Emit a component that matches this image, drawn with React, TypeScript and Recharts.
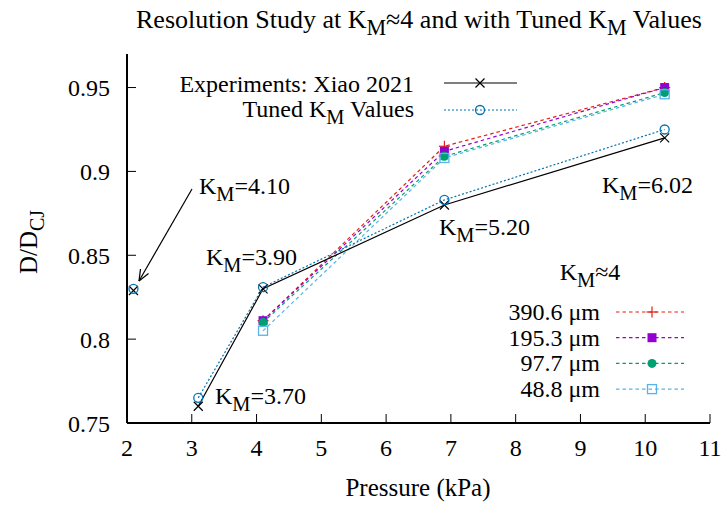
import { ComposedChart, Line, XAxis, YAxis } from 'recharts'

// values
const pressure = [2.1, 3.1, 4.1, 6.9, 10.3]
const experimentD = [0.829, 0.76, 0.83, 0.88, 0.92]
const tunedD = [0.83, 0.765, 0.831, 0.883, 0.925]

const resPressure = [4.1, 6.9, 10.3]
const res390 = [0.811, 0.915, 0.95]
const res195 = [0.811, 0.912, 0.95]
const res97 = [0.81, 0.909, 0.947]
const res48 = [0.805, 0.908, 0.946]

const xTicks = [2, 3, 4, 5, 6, 7, 8, 9, 10, 11]
const yTicks = [0.75, 0.8, 0.85, 0.9, 0.95]

const FONT = 'Liberation Serif, Tinos, DejaVu Serif, serif'
const C_EXP = '#000000'
const C_TUNED = '#0072b2'
const C_390 = '#e51e10'
const C_195 = '#9400d3'
const C_97 = '#009e73'
const C_48 = '#56b4e9'

const pairs = (xs: number[], ys: number[]) => xs.map((p, i) => ({ p, d: ys[i] }))

// the 2.1 kPa point is plotted on its own, not joined to the rest
const expIsolated = pairs(pressure.slice(0, 1), experimentD.slice(0, 1))
const expLine = pairs(pressure.slice(1), experimentD.slice(1))
const tunedIsolated = pairs(pressure.slice(0, 1), tunedD.slice(0, 1))
const tunedLine = pairs(pressure.slice(1), tunedD.slice(1))

type Mk = 'cross' | 'circle' | 'plus' | 'square' | 'dot' | 'box'

function Marker({ kind, cx, cy, color }: { kind: Mk; cx: number; cy: number; color: string }) {
  const s = 4.5
  switch (kind) {
    case 'cross':
      return (
        <g stroke={color} strokeWidth={1.2}>
          <line x1={cx - s} y1={cy - s} x2={cx + s} y2={cy + s} />
          <line x1={cx - s} y1={cy + s} x2={cx + s} y2={cy - s} />
        </g>
      )
    case 'plus':
      return (
        <g stroke={color} strokeWidth={1.2}>
          <line x1={cx - 5.5} y1={cy} x2={cx + 5.5} y2={cy} />
          <line x1={cx} y1={cy - 5.5} x2={cx} y2={cy + 5.5} />
        </g>
      )
    case 'circle':
      return <circle cx={cx} cy={cy} r={s} fill="none" stroke={color} strokeWidth={1.3} />
    case 'dot':
      return <circle cx={cx} cy={cy} r={s} fill={color} stroke="none" />
    case 'square':
      return <rect x={cx - s} y={cy - s} width={2 * s} height={2 * s} fill={color} />
    case 'box':
      return <rect x={cx - s} y={cy - s} width={2 * s} height={2 * s} fill="none" stroke={color} strokeWidth={1.3} />
  }
}

const dotOf = (kind: Mk, color: string) => (props: any) => (
  <Marker key={`${kind}-${props.index}`} kind={kind} cx={props.cx} cy={props.cy} color={color} />
)

function KM({ rest }: { rest: string }) {
  return (
    <>
      <tspan>K</tspan>
      <tspan dy={7} fontSize="0.85em">M</tspan>
      <tspan dy={-7}>{rest}</tspan>
    </>
  )
}

const resSeries = [
  { name: '390.6 μm', vals: res390, color: C_390, mk: 'plus' as Mk },
  { name: '195.3 μm', vals: res195, color: C_195, mk: 'square' as Mk },
  { name: '97.7 μm', vals: res97, color: C_97, mk: 'dot' as Mk },
  { name: '48.8 μm', vals: res48, color: C_48, mk: 'box' as Mk },
]

export default function App() {
  const tickStyle = { fontSize: 24, fill: '#000', style: { fontFamily: FONT } }
  const axisStroke = { stroke: '#000', strokeWidth: 2 }
  return (
    <div style={{ position: 'absolute', left: 0, top: 0, width: 722, height: 507, background: '#fff', fontFamily: FONT }}>
      <ComposedChart width={722} height={507} margin={{ top: 54, right: 12, bottom: 54, left: 67 }} style={{ fontFamily: FONT }}>
        <XAxis
          type="number"
          dataKey="p"
          domain={[2, 11]}
          ticks={xTicks}
          allowDataOverflow
          height={30}
          tickSize={-9}
          tickMargin={25}
          tick={tickStyle}
          axisLine={axisStroke}
          tickLine={{ stroke: '#000', strokeWidth: 1 }}
        />
        <XAxis
          xAxisId="top"
          orientation="top"
          type="number"
          dataKey="p"
          domain={[2, 11]}
          ticks={xTicks}
          height={0}
          tickSize={-9}
          tick={false}
          axisLine={axisStroke}
          tickLine={{ stroke: '#000', strokeWidth: 1 }}
        />
        <YAxis
          type="number"
          domain={[0.75, 0.97]}
          ticks={yTicks}
          allowDataOverflow
          width={60}
          tickSize={-9}
          tickMargin={26}
          tick={tickStyle}
          axisLine={axisStroke}
          tickLine={{ stroke: '#000', strokeWidth: 1 }}
        />
        <YAxis
          yAxisId="right"
          orientation="right"
          type="number"
          domain={[0.75, 0.97]}
          ticks={yTicks}
          width={0}
          tickSize={-9}
          tick={false}
          axisLine={axisStroke}
          tickLine={{ stroke: '#000', strokeWidth: 1 }}
        />

        {resSeries.map((s) => (
          <Line
            key={s.name}
            data={pairs(resPressure, s.vals)}
            dataKey="d"
            type="linear"
            stroke={s.color}
            strokeWidth={1.2}
            strokeDasharray="3.5 3"
            dot={dotOf(s.mk, s.color)}
            isAnimationActive={false}
          />
        ))}

        <Line data={expLine} dataKey="d" type="linear" stroke={C_EXP} strokeWidth={1.2}
          dot={dotOf('cross', C_EXP)} isAnimationActive={false} />
        <Line data={expIsolated} dataKey="d" type="linear" stroke={C_EXP} strokeWidth={1.2}
          dot={dotOf('cross', C_EXP)} isAnimationActive={false} />
        <Line data={tunedLine} dataKey="d" type="linear" stroke={C_TUNED} strokeWidth={1.2}
          strokeDasharray="2 2" dot={dotOf('circle', C_TUNED)} isAnimationActive={false} />
        <Line data={tunedIsolated} dataKey="d" type="linear" stroke={C_TUNED} strokeWidth={1.2}
          strokeDasharray="2 2" dot={dotOf('circle', C_TUNED)} isAnimationActive={false} />
      </ComposedChart>

      <svg
        width={722}
        height={507}
        style={{ position: 'absolute', left: 0, top: 0, pointerEvents: 'none', fontFamily: FONT }}
      >
        {/* title */}
        <text x={419} y={28} textAnchor="middle" fontSize={26}>
          <tspan>Resolution Study at </tspan>
          <KM rest="≈4 and with Tuned " />
          <KM rest=" Values" />
        </text>

        {/* axis labels */}
        <text x={418} y={496} textAnchor="middle" fontSize={25}>Pressure (kPa)</text>
        <text transform="translate(37,242) rotate(-90)" textAnchor="middle" fontSize={25}>
          <tspan>D/D</tspan>
          <tspan dy={7} fontSize="0.8em">CJ</tspan>
        </text>

        {/* legend, upper left */}
        <text x={414} y={92} textAnchor="end" fontSize={24}>Experiments: Xiao 2021</text>
        <line x1={444} y1={83} x2={517} y2={83} stroke={C_EXP} strokeWidth={1.2} />
        <Marker kind="cross" cx={480} cy={83} color={C_EXP} />
        <text x={414} y={117} textAnchor="end" fontSize={24}>
          <tspan>Tuned </tspan>
          <KM rest=" Values" />
        </text>
        <line x1={444} y1={110} x2={517} y2={110} stroke={C_TUNED} strokeWidth={1.2} strokeDasharray="2 2" />
        <Marker kind="circle" cx={480} cy={110} color={C_TUNED} />

        {/* legend, lower right */}
        <text x={590} y={280} textAnchor="middle" fontSize={24}>
          <KM rest="≈4" />
        </text>
        {resSeries.map((s, i) => {
          const y = 312 + i * 25.7
          return (
            <g key={s.name}>
              <text x={600} y={y + 8} textAnchor="end" fontSize={24}>{s.name}</text>
              <line x1={616} y1={y} x2={684} y2={y} stroke={s.color} strokeWidth={1.2} strokeDasharray="3.5 3" />
              <Marker kind={s.mk} cx={652} cy={y} color={s.color} />
            </g>
          )
        })}

        {/* annotations */}
        <text x={199} y={194} fontSize={24}><KM rest="=4.10" /></text>
        <line x1={192} y1={189} x2={139} y2={281} stroke="#000" strokeWidth={1.2} />
        <line x1={139} y1={281} x2={140.5} y2={269} stroke="#000" strokeWidth={1.2} />
        <line x1={139} y1={281} x2={148.5} y2={273.5} stroke="#000" strokeWidth={1.2} />
        <text x={206} y={265} fontSize={24}><KM rest="=3.90" /></text>
        <text x={439} y={235} fontSize={24}><KM rest="=5.20" /></text>
        <text x={602} y={193} fontSize={24}><KM rest="=6.02" /></text>
        <text x={215} y={404} fontSize={24}><KM rest="=3.70" /></text>
      </svg>
    </div>
  )
}
